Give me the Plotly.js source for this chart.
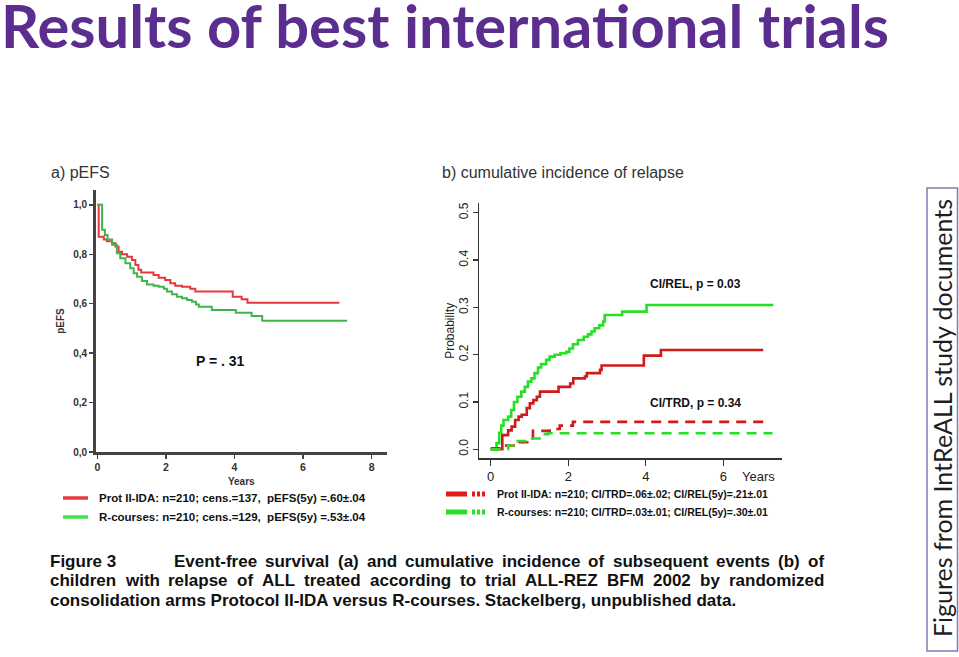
<!DOCTYPE html>
<html>
<head>
<meta charset="utf-8">
<script src="https://cdn.plot.ly/plotly-3.0.1.min.js"></script>
<style>html,body{margin:0;padding:0;background:#fff;}#chart{width:959px;height:657px;}</style>
</head>
<body>
<div id="chart"></div>
<script>
// ---------- a) pEFS (Kaplan-Meier, years) ----------
const efsProtT = [0, 0.04, 0.19, 0.28, 0.43, 0.53, 0.62, 0.72, 0.87, 1.01, 1.11, 1.2, 1.28, 1.64, 1.79, 1.98, 2.13, 2.27, 2.47, 2.71, 2.86, 3.95, 4.21, 4.38, 7.06];
const efsProtY = [1.0, 0.871, 0.86, 0.853, 0.845, 0.831, 0.81, 0.80, 0.79, 0.777, 0.757, 0.737, 0.726, 0.716, 0.705, 0.696, 0.683, 0.673, 0.669, 0.66, 0.649, 0.628, 0.618, 0.604, 0.604];
const efsRT = [0, 0.14, 0.22, 0.3, 0.43, 0.57, 0.67, 0.82, 0.96, 1.06, 1.16, 1.3, 1.45, 1.64, 1.79, 1.94, 2.03, 2.18, 2.32, 2.47, 2.62, 2.76, 2.88, 2.96, 3.34, 4.04, 4.5, 4.81, 7.29];
const efsRY = [1.0, 0.899, 0.878, 0.86, 0.838, 0.804, 0.784, 0.764, 0.743, 0.723, 0.709, 0.692, 0.678, 0.673, 0.669, 0.66, 0.649, 0.638, 0.628, 0.622, 0.615, 0.608, 0.597, 0.588, 0.574, 0.563, 0.55, 0.531, 0.531];
const efsXTicks = [0, 2, 4, 6, 8];
const efsYTicks = [0, 0.2, 0.4, 0.6, 0.8, 1.0];
const efsYLabels = ["0,0", "0,2", "0,4", "0,6", "0,8", "1,0"];

// ---------- b) cumulative incidence ----------
const relRT = [0, 0.15, 0.22, 0.27, 0.33, 0.45, 0.53, 0.6, 0.69, 0.79, 0.88, 0.96, 1.05, 1.13, 1.22, 1.3, 1.43, 1.52, 1.65, 1.8, 1.95, 2.03, 2.12, 2.25, 2.4, 2.51, 2.6, 2.68, 2.8, 2.9, 2.94, 3.39, 4.02, 7.29];
const relRY = [0, 0.013, 0.035, 0.05, 0.062, 0.069, 0.083, 0.1, 0.111, 0.122, 0.132, 0.143, 0.15, 0.161, 0.173, 0.18, 0.189, 0.196, 0.2, 0.203, 0.206, 0.213, 0.222, 0.231, 0.238, 0.243, 0.249, 0.256, 0.262, 0.27, 0.284, 0.291, 0.305, 0.305];
const relProtT = [0, 0.3, 0.45, 0.54, 0.63, 0.72, 0.8, 0.93, 1.01, 1.1, 1.19, 1.27, 1.75, 2.05, 2.13, 2.43, 2.48, 2.82, 2.86, 3.95, 4.39, 7.03];
const relProtY = [0, 0.03, 0.04, 0.048, 0.062, 0.069, 0.073, 0.087, 0.097, 0.104, 0.111, 0.122, 0.132, 0.139, 0.15, 0.154, 0.161, 0.168, 0.177, 0.198, 0.21, 0.21];
const trdProtT = [0, 0.32, 0.75, 1.09, 1.52, 1.78, 2.12, 7.2];
const trdProtY = [0.002, 0.008, 0.015, 0.039, 0.043, 0.05, 0.058, 0.058];
const trdRT = [0, 0.45, 0.7, 0.91, 1.3, 1.48, 7.27];
const trdRY = [0, 0.008, 0.0175, 0.023, 0.032, 0.034, 0.034];
const ciXTicks = [0, 2, 4, 6];
const ciYTicks = [0, 0.1, 0.2, 0.3, 0.4, 0.5];
const ciYLabels = ["0.0", "0.1", "0.2", "0.3", "0.4", "0.5"];

// ---------- texts ----------
const mainTitle = "Results of best international trials";
const sideText = "Figures from IntReALL study documents";
const legendA = ["Prot II-IDA: n=210; cens.=137,  pEFS(5y) =.60±.04", "R-courses: n=210; cens.=129,  pEFS(5y) =.53±.04"];
const legendB = ["Prot II-IDA: n=210; CI/TRD=.06±.02; CI/REL(5y)=.21±.01", "R-courses: n=210; CI/TRD=.03±.01; CI/REL(5y)=.30±.01"];
const captionLabel = "Figure 3";
const captionLines = [
  "Event-free survival (a) and cumulative incidence of subsequent events (b) of",
  "children with relapse of ALL treated according to trial ALL-REZ BFM 2002 by randomized",
  "consolidation arms Protocol II-IDA versus R-courses. Stackelberg, unpublished data."
];

const W = 959, H = 657;
const px = v => v / W;
const py = v => 1 - v / H;

const AR = "Liberation Sans, Arial, sans-serif";
const CAL = "Lato, Carlito, Calibri, sans-serif";

const traces = [
  {x: efsProtT, y: efsProtY, xaxis: 'x', yaxis: 'y', mode: 'lines', line: {shape: 'hv', color: '#e5383f', width: 2}, name: 'Prot II-IDA'},
  {x: efsRT, y: efsRY, xaxis: 'x', yaxis: 'y', mode: 'lines', line: {shape: 'hv', color: '#3db54b', width: 2}, name: 'R-courses'},
  {x: relRT, y: relRY, xaxis: 'x2', yaxis: 'y2', mode: 'lines', line: {shape: 'hv', color: '#27e025', width: 2.6}, name: 'R-courses CI/REL'},
  {x: relProtT, y: relProtY, xaxis: 'x2', yaxis: 'y2', mode: 'lines', line: {shape: 'hv', color: '#d01b1b', width: 2.6}, name: 'Prot II-IDA CI/REL'},
  {x: trdProtT, y: trdProtY, xaxis: 'x2', yaxis: 'y2', mode: 'lines', line: {shape: 'hv', color: '#d01b1b', width: 2.6, dash: '10px,7px'}, name: 'Prot II-IDA CI/TRD'},
  {x: trdRT, y: trdRY, xaxis: 'x2', yaxis: 'y2', mode: 'lines', line: {shape: 'hv', color: '#27e025', width: 2.6, dash: '10px,7px'}, name: 'R-courses CI/TRD'}
];

const CAPFONT = {family: AR, size: 17, color: '#111', weight: 'bold'};

const annotations = [
  {text: mainTitle, xref: 'paper', yref: 'paper', x: px(-1), y: py(25), xanchor: 'left', yanchor: 'middle', showarrow: false,
   font: {family: CAL, size: 59.7, color: '#5b2d8f', weight: 'bold'}},
  {text: sideText, xref: 'paper', yref: 'paper', x: px(942), y: py(418), xanchor: 'center', yanchor: 'middle', textangle: -90, showarrow: false,
   font: {family: CAL, size: 25, color: '#1e1e1e'}},
  {text: "a) pEFS", xref: 'paper', yref: 'paper', x: px(49), y: py(172), xanchor: 'left', yanchor: 'middle', showarrow: false,
   font: {family: AR, size: 16, color: '#333'}},
  {text: "b) cumulative incidence of relapse", xref: 'paper', yref: 'paper', x: px(440), y: py(172), xanchor: 'left', yanchor: 'middle', showarrow: false,
   font: {family: AR, size: 16, color: '#333'}},
  {text: "P = . 31", xref: 'x', yref: 'y', x: 3.58, y: 0.368, showarrow: false, font: {family: AR, size: 14, color: '#111', weight: 'bold'}},
  {text: "CI/REL, p = 0.03", xref: 'x2', yref: 'y2', x: 5.27, y: 0.349, showarrow: false, font: {family: AR, size: 12, color: '#111', weight: 'bold'}},
  {text: "CI/TRD, p = 0.34", xref: 'x2', yref: 'y2', x: 5.27, y: 0.098, showarrow: false, font: {family: AR, size: 12, color: '#111', weight: 'bold'}},
  {text: "Years", xref: 'paper', yref: 'paper', x: px(740), y: py(476), xanchor: 'left', yanchor: 'middle', showarrow: false, font: {family: AR, size: 13, color: '#222'}},
  {text: legendA[0], xref: 'paper', yref: 'paper', x: px(97), y: py(498), xanchor: 'left', yanchor: 'middle', showarrow: false, font: {family: AR, size: 11.5, color: '#111', weight: 'bold'}},
  {text: legendA[1], xref: 'paper', yref: 'paper', x: px(97), y: py(517), xanchor: 'left', yanchor: 'middle', showarrow: false, font: {family: AR, size: 11.5, color: '#111', weight: 'bold'}},
  {text: legendB[0], xref: 'paper', yref: 'paper', x: px(495), y: py(494), xanchor: 'left', yanchor: 'middle', showarrow: false, font: {family: AR, size: 10.5, color: '#111', weight: 'bold'}},
  {text: legendB[1], xref: 'paper', yref: 'paper', x: px(495), y: py(512), xanchor: 'left', yanchor: 'middle', showarrow: false, font: {family: AR, size: 10.5, color: '#111', weight: 'bold'}},
  {text: captionLabel, xref: 'paper', yref: 'paper', x: px(48), y: py(561), xanchor: 'left', yanchor: 'middle', showarrow: false, font: CAPFONT},
  {text: captionLines[2], xref: 'paper', yref: 'paper', x: px(48), y: py(600), xanchor: 'left', yanchor: 'middle', showarrow: false, font: CAPFONT}
];

// justified caption lines: each word placed so the line fills its width
const ctx = document.createElement('canvas').getContext('2d');
ctx.font = "bold 17px 'Liberation Sans'";
function justify(line, x0, x1, yPix) {
  const words = line.split(' ');
  const widths = words.map(w => ctx.measureText(w).width);
  const total = widths.reduce((a, b) => a + b, 0);
  const gap = (x1 - x0 - total) / (words.length - 1);
  let x = x0;
  words.forEach((w, i) => {
    annotations.push({text: w, xref: 'paper', yref: 'paper', x: px(x), y: py(yPix), xanchor: 'left', yanchor: 'middle', showarrow: false, font: CAPFONT});
    x += widths[i] + gap;
  });
}
justify(captionLines[0], 172, 822, 561);
justify(captionLines[1], 48, 822, 580);

const shapes = [
  {type: 'rect', xref: 'paper', yref: 'paper', x0: px(927), x1: px(957.5), y0: py(188), y1: py(651), line: {color: '#8f74b3', width: 1.5}},
  {type: 'line', xref: 'paper', yref: 'paper', x0: px(63), x1: px(88), y0: py(498), y1: py(498), line: {color: '#e5383f', width: 3.5}},
  {type: 'line', xref: 'paper', yref: 'paper', x0: px(63), x1: px(88), y0: py(517), y1: py(517), line: {color: '#3de34b', width: 3.5}},
  {type: 'line', xref: 'paper', yref: 'paper', x0: px(446), x1: px(467), y0: py(494), y1: py(494), line: {color: '#e01b1b', width: 5}},
  {type: 'line', xref: 'paper', yref: 'paper', x0: px(472), x1: px(486), y0: py(494), y1: py(494), line: {color: '#e01b1b', width: 5, dash: '3px,2px'}},
  {type: 'line', xref: 'paper', yref: 'paper', x0: px(446), x1: px(467), y0: py(512), y1: py(512), line: {color: '#27e025', width: 5}},
  {type: 'line', xref: 'paper', yref: 'paper', x0: px(472), x1: px(486), y0: py(512), y1: py(512), line: {color: '#27e025', width: 5, dash: '3px,2px'}}
];

const layout = {
  width: W, height: H,
  margin: {l: 0, r: 0, t: 0, b: 0},
  paper_bgcolor: '#fff', plot_bgcolor: 'rgba(0,0,0,0)',
  showlegend: false,
  xaxis: {domain: [px(95.6), px(387)], range: [-0.05, 8.45], tickvals: efsXTicks, ticks: 'outside', ticklen: 4, tickwidth: 1.5, tickcolor: '#444',
          showline: true, linecolor: '#444', linewidth: 2.5, showgrid: false, zeroline: false, anchor: 'y',
          tickfont: {family: AR, size: 10.5, color: '#333', weight: 'bold'},
          title: {text: 'Years', font: {family: AR, size: 10, color: '#333', weight: 'bold'}, standoff: 6}},
  yaxis: {domain: [py(452), py(190)], range: [0, 1.06], tickvals: efsYTicks, ticktext: efsYLabels, ticks: 'outside', ticklen: 4, tickwidth: 1.5, tickcolor: '#444',
          showline: true, linecolor: '#444', linewidth: 2.5, showgrid: false, zeroline: false, anchor: 'x',
          tickfont: {family: AR, size: 10, color: '#333', weight: 'bold'},
          title: {text: 'pEFS', font: {family: AR, size: 10, color: '#333', weight: 'bold'}, standoff: 7}},
  xaxis2: {domain: [px(479.3), px(781.7)], range: [-0.294, 7.506], tickvals: ciXTicks, ticks: 'outside', ticklen: 6, tickwidth: 1.2, tickcolor: '#333',
          showline: true, linecolor: '#333', linewidth: 1.3, showgrid: false, zeroline: false, anchor: 'y2',
          tickfont: {family: AR, size: 13, color: '#222'}},
  yaxis2: {domain: [py(458.3), py(203.3)], range: [-0.019, 0.52], tickvals: ciYTicks, ticktext: ciYLabels, tickangle: -90, ticks: 'outside', ticklen: 5, tickwidth: 1.2, tickcolor: '#333',
          showline: true, linecolor: '#333', linewidth: 1.3, showgrid: false, zeroline: false, anchor: 'x2',
          tickfont: {family: AR, size: 12, color: '#222'},
          title: {text: 'Probability', font: {family: AR, size: 12, color: '#222'}, standoff: 0}},
  annotations: annotations,
  shapes: shapes
};

Plotly.newPlot('chart', traces, layout, {displayModeBar: false, staticPlot: true});
</script>
</body>
</html>
